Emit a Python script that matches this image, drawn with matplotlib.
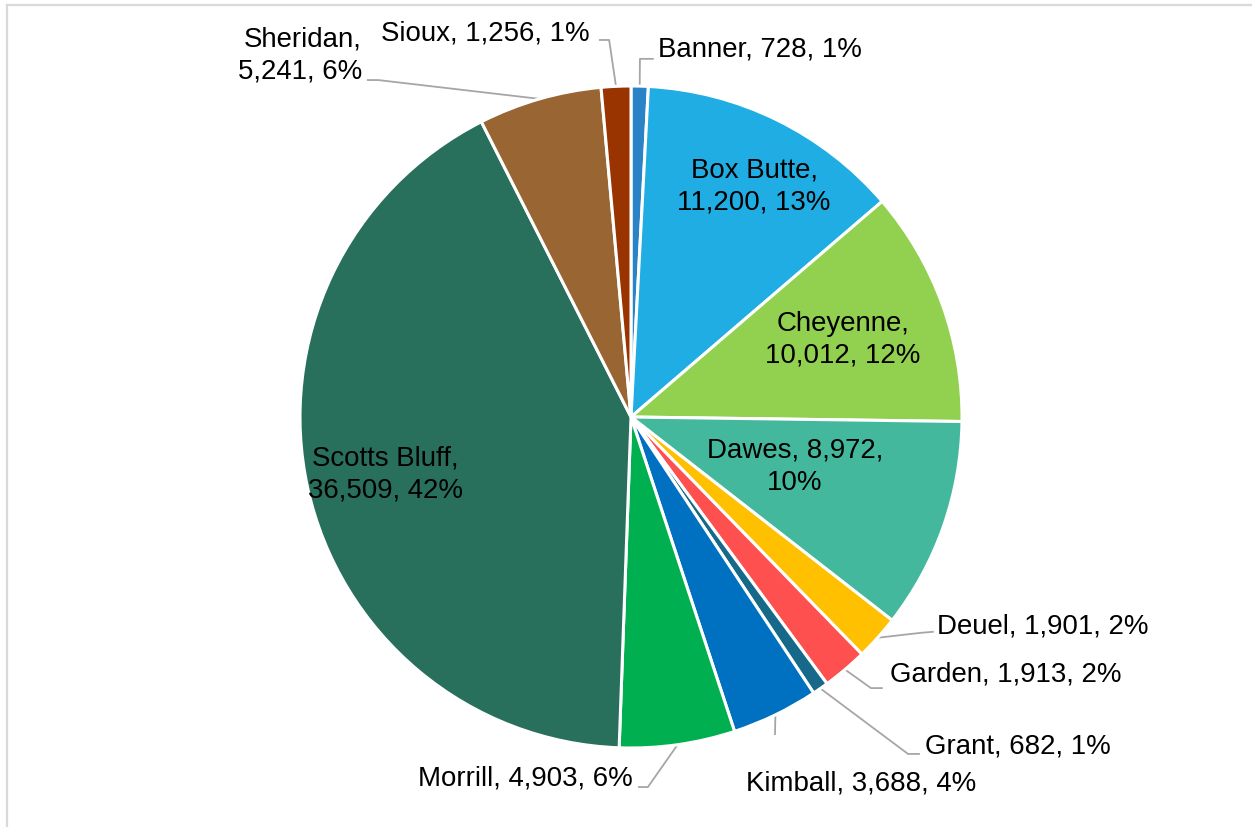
import numpy as np
import matplotlib.pyplot as plt
from matplotlib.lines import Line2D

plt.rcParams['font.family'] = ['Liberation Sans', 'DejaVu Sans']

counties = ['Banner', 'Box Butte', 'Cheyenne', 'Dawes', 'Deuel', 'Garden',
            'Grant', 'Kimball', 'Morrill', 'Scotts Bluff', 'Sheridan', 'Sioux']
population = [728, 11200, 10012, 8972, 1901, 1913, 682, 3688, 4903, 36509, 5241, 1256]
colors = ['#2983C6', '#1FADE4', '#92D050', '#43B89C', '#FFC000', '#FF5050',
          '#17698A', '#0070C0', '#00B050', '#286F5C', '#996633', '#993300']

# label placement in axes data units (pie radius = 1)
inside_pos = {
    'Box Butte': (0.372, 0.698),
    'Cheyenne': (0.640, 0.236),
    'Dawes': (0.495, -0.148),
    'Scotts Bluff': (-0.743, -0.172),
}
outside_pos = {
    'Banner': (0.082, 1.112, 'left'),
    'Sioux': (-0.124, 1.163, 'right'),
    'Sheridan': (-0.813, 1.094, 'right'),
    'Deuel': (0.924, -0.631, 'left'),
    'Garden': (0.782, -0.776, 'left'),
    'Grant': (0.888, -0.991, 'left'),
    'Kimball': (0.695, -1.103, 'center'),
    'Morrill': (0.006, -1.088, 'right'),
}
# leader line bends after leaving the wedge
elbows = {
    'Banner': [(0.027, 1.082), (0.066, 1.082)],
    'Sioux': [(-0.066, 1.139), (-0.094, 1.139)],
    'Sheridan': [(-0.764, 1.018), (-0.795, 1.018)],
    'Deuel': [(0.876, -0.652), (0.912, -0.649)],
    'Garden': [(0.725, -0.819), (0.758, -0.819)],
    'Grant': [(0.837, -1.018), (0.870, -1.018)],
    'Kimball': [(0.435, -0.958)],
    'Morrill': [(0.051, -1.118), (0.024, -1.118)],
}
multiline = {'Sheridan', 'Box Butte', 'Cheyenne', 'Dawes', 'Scotts Bluff'}

fig = plt.figure(figsize=(12.52, 8.28), dpi=100)
ax = fig.add_axes([(631 - 331) / 1252, (828 - 418 - 331) / 828, 662 / 1252, 662 / 828])

wedges, _ = ax.pie(population, colors=colors, startangle=90, counterclock=False,
                   radius=1, wedgeprops=dict(edgecolor='white', linewidth=2.2))
ax.set_xlim(-1, 1)
ax.set_ylim(-1, 1)
ax.set_aspect('equal')
ax.axis('off')

total = sum(population)
fs = 19.9
ls = 1.3
for w, name, val in zip(wedges, counties, population):
    pct = round(val / total * 100)
    if name in multiline:
        if name == 'Dawes':
            txt = f'{name}, {val:,},\n{pct}%'
        else:
            txt = f'{name},\n{val:,}, {pct}%'
    else:
        txt = f'{name}, {val:,}, {pct}%'
    if name in inside_pos:
        x, y = inside_pos[name]
        ax.text(x, y, txt, ha='center', va='center', fontsize=fs, color='black',
                linespacing=ls)
    else:
        x, y, ha = outside_pos[name]
        ax.text(x, y, txt, ha=ha, va='center', fontsize=fs, color='black',
                linespacing=ls, clip_on=False)
        mid = np.deg2rad((w.theta1 + w.theta2) / 2)
        pts = [(np.cos(mid), np.sin(mid))] + elbows[name]
        xs, ys = zip(*pts)
        ax.plot(xs, ys, color='#A6A6A6', lw=1.3, clip_on=False, zorder=0.5)

# chart frame (only top and left edges visible)
fig.add_artist(Line2D([7 / 1252, 1], [1 - 6 / 828, 1 - 6 / 828], color='#D9D9D9',
                      lw=1.6, transform=fig.transFigure))
fig.add_artist(Line2D([7 / 1252, 7 / 1252], [0, 1 - 6 / 828], color='#D9D9D9',
                      lw=1.6, transform=fig.transFigure))

fig.savefig('out.png', dpi=100, facecolor='white')
